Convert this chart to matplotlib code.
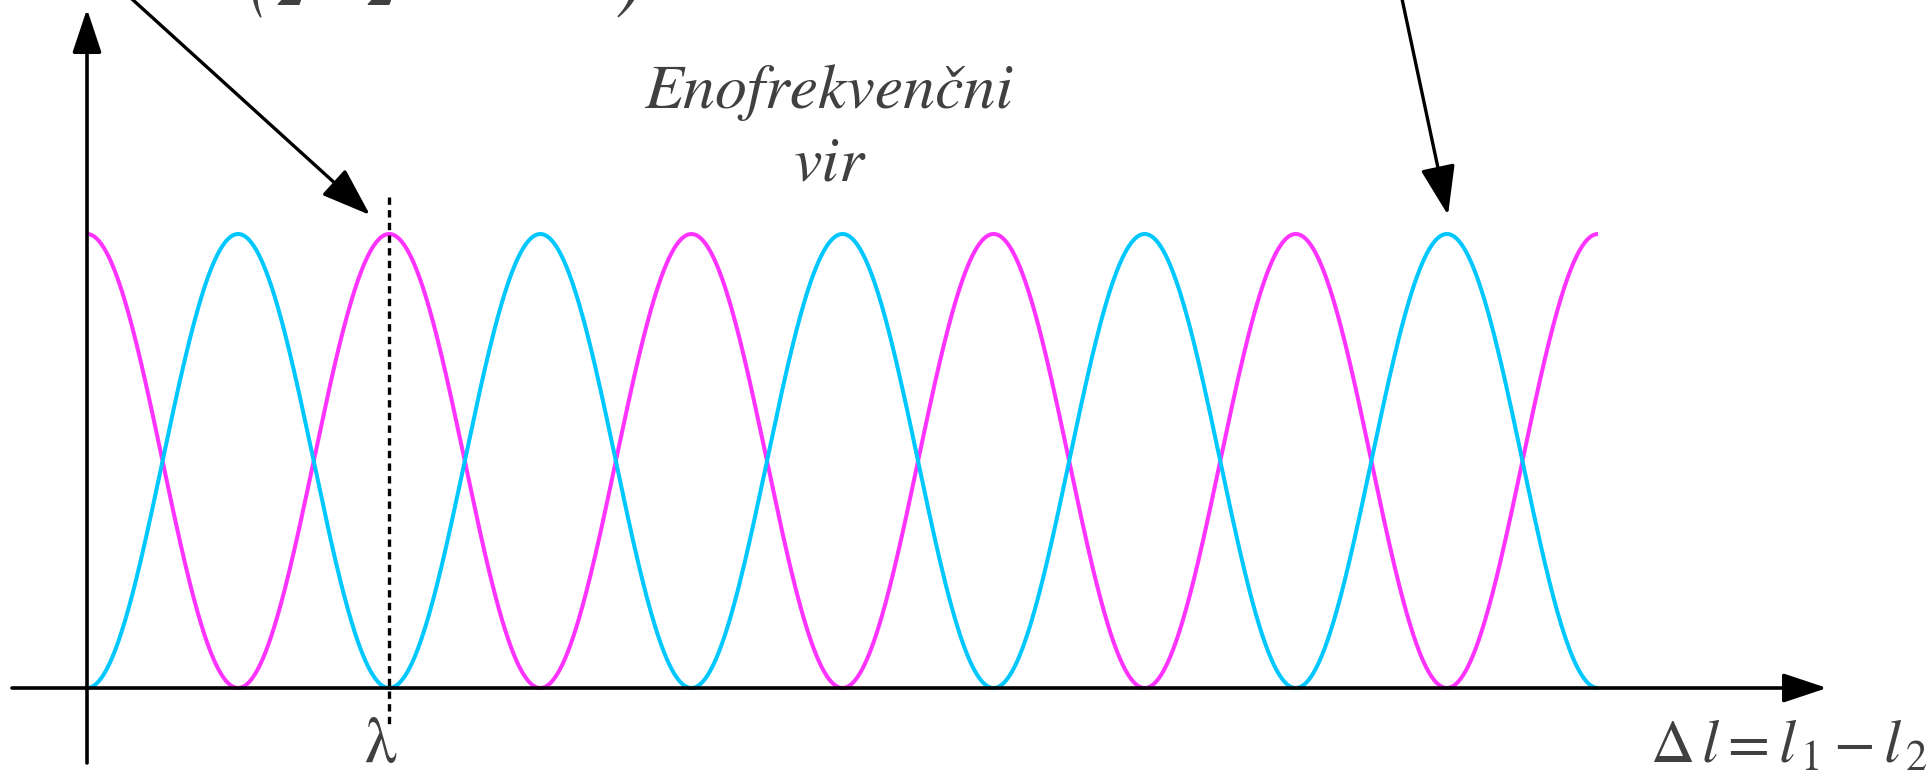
import numpy as np
import matplotlib.pyplot as plt

# interference of a single-frequency source: two complementary outputs
wavelength = 1.0
n_periods = [0, 5]          # plotted range of delta l, in wavelengths
intensity_range = [0.0, 1.0]
magenta = '#ff33ff'
cyan = '#00c8ff'
text_color = '#404040'

source_label = ['Enofrekvenčni', 'vir']
lambda_label = 'λ'
axis_label = r'$\Delta\,l = l_{\,1} - l_{\,2}$'

plt.rcParams['mathtext.fontset'] = 'stix'
SERIF = 'STIXGeneral'

W, H = 1927, 779
fig = plt.figure(figsize=(W / 100, H / 100), dpi=100)
ax = fig.add_axes([0, 0, 1, 1])

# pixel layout of the reference -> data coordinates
X0, PER = 87, 302.2
Y0, AMP = 688, 454


def px(xp, yp):
    return (xp - X0) / PER, (Y0 - yp) / AMP


ax.set_xlim(px(0, 0)[0], px(W, 0)[0])
ax.set_ylim(px(0, H)[1], px(0, 0)[1])
ax.axis('off')

dl = np.linspace(n_periods[0], n_periods[1], 2000) * wavelength
i_lo, i_hi = intensity_range
span = i_hi - i_lo
out_a = i_lo + span * (1 + np.cos(2 * np.pi * dl / wavelength)) / 2
out_b = i_lo + span * (1 - np.cos(2 * np.pi * dl / wavelength)) / 2
ax.plot(dl, out_a, color=magenta, lw=2.9, solid_capstyle='butt', zorder=3)
ax.plot(dl, out_b, color=cyan, lw=2.9, solid_capstyle='butt', zorder=3)

# axes with arrow heads
axis_style = '-|>,head_length=0.75,head_width=0.25'
ax.annotate('', xy=px(1827, Y0), xytext=px(12, Y0),
            arrowprops=dict(arrowstyle=axis_style, mutation_scale=36,
                            lw=2.6, color='black', shrinkA=0, shrinkB=0))
ax.annotate('', xy=px(X0, 9), xytext=px(X0, 763),
            arrowprops=dict(arrowstyle=axis_style, mutation_scale=36,
                            lw=2.6, color='black', shrinkA=0, shrinkB=0))

# pointer arrows from the (cropped) formulas above
ptr_style = '-|>,head_length=0.85,head_width=0.3'
ax.annotate('', xy=px(370, 215), xytext=px(111, -20),
            arrowprops=dict(arrowstyle=ptr_style, mutation_scale=36,
                            lw=2.4, color='black', shrinkA=0, shrinkB=0))
ax.annotate('', xy=px(1448, 215), xytext=px(1398, -20),
            arrowprops=dict(arrowstyle=ptr_style, mutation_scale=36,
                            lw=2.4, color='black', shrinkA=0, shrinkB=0))

# wavelength marker
ax.plot([wavelength, wavelength], [px(0, 197)[1], px(0, 725)[1]],
        color='black', lw=2.4, dashes=(2.2, 1.6), zorder=4)
ax.text(wavelength - 0.03, px(0, 762)[1], lambda_label, ha='center',
        va='baseline', fontsize=46, family=SERIF, color=text_color)

ax.text(*px(1650, 763), axis_label, ha='left', va='baseline',
        fontsize=44, color=text_color)

ax.text(*px(829, 108), source_label[0], ha='center', va='baseline',
        fontsize=46, family=SERIF, style='italic', color=text_color)
ax.text(*px(829, 180), source_label[1], ha='center', va='baseline',
        fontsize=46, family=SERIF, style='italic', color=text_color)

# bottom of a formula that runs off the top edge
for ch, xp, yp, fs in [('(', 262, 2, 62), ('2', 292, 5, 44),
                       ('2', 382, 5, 44), (')', 630, 2, 62)]:
    ax.text(*px(xp, yp), ch, ha='center', va='baseline', fontsize=fs,
            family=SERIF, style='italic', color=text_color,
            clip_on=False)

fig.savefig('out.png', dpi=100)
